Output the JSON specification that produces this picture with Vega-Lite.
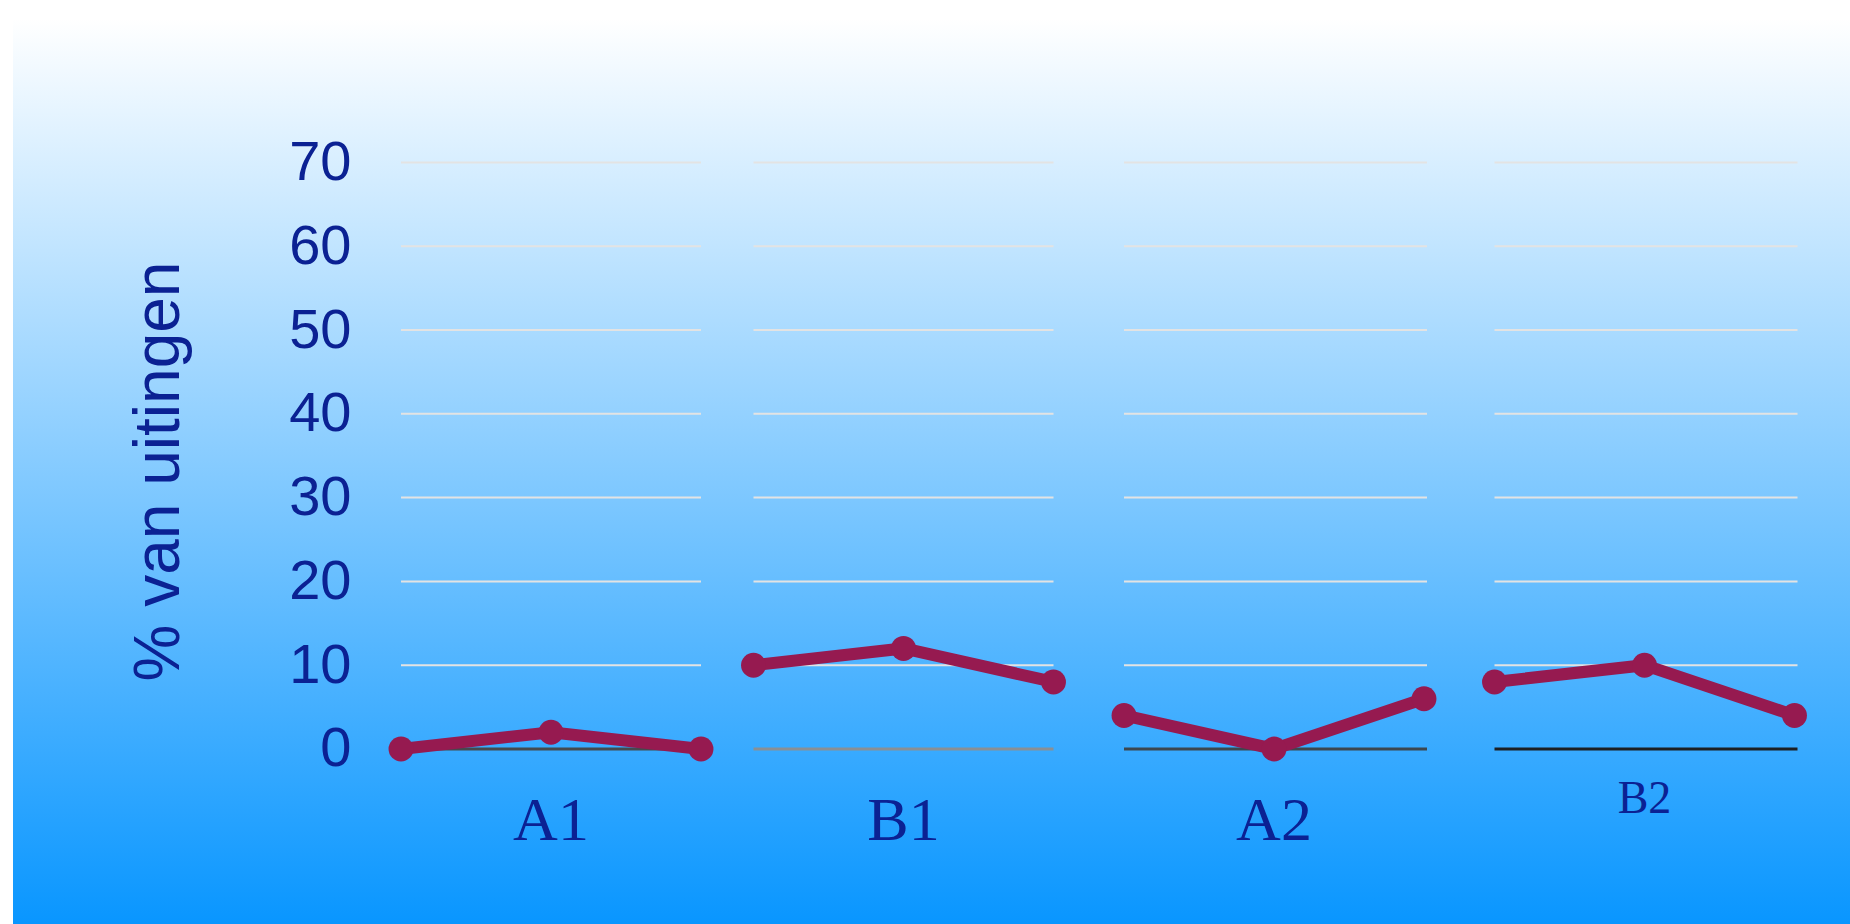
{
  "$schema": "https://vega.github.io/schema/vega-lite/v6.json",
  "width": 1837,
  "height": 924,
  "autosize": {"type": "none"},
  "padding": {"left": 13, "top": 0, "right": 0, "bottom": 0},
  "background": "white",
  "view": {
    "stroke": null,
    "fill": {
      "gradient": "linear",
      "x1": 0, "y1": 0, "x2": 0, "y2": 1,
      "stops": [
        {"offset": 0, "color": "#ffffff"},
        {"offset": 0.02, "color": "#ffffff"},
        {"offset": 1, "color": "#0996ff"}
      ]
    }
  },
  "datasets": {
    "points": [
      {"panel": "A1", "pos": 0, "value": 0},
      {"panel": "A1", "pos": 1, "value": 2},
      {"panel": "A1", "pos": 2, "value": 0},
      {"panel": "B1", "pos": 2.35, "value": 10},
      {"panel": "B1", "pos": 3.35, "value": 12},
      {"panel": "B1", "pos": 4.35, "value": 8},
      {"panel": "A2", "pos": 4.82, "value": 4},
      {"panel": "A2", "pos": 5.82, "value": 0},
      {"panel": "A2", "pos": 6.82, "value": 6},
      {"panel": "B2", "pos": 7.29, "value": 8},
      {"panel": "B2", "pos": 8.29, "value": 10},
      {"panel": "B2", "pos": 9.29, "value": 4}
    ],
    "panels": [
      {"panel": "A1", "start": 0, "end": 2, "mid": 1, "ticks": [10, 20, 30, 40, 50, 60, 70]},
      {"panel": "B1", "start": 2.35, "end": 4.35, "mid": 3.35, "ticks": [10, 20, 30, 40, 50, 60, 70]},
      {"panel": "A2", "start": 4.82, "end": 6.84, "mid": 5.82, "ticks": [10, 20, 30, 40, 50, 60, 70]},
      {"panel": "B2", "start": 7.29, "end": 9.31, "mid": 8.29, "ticks": [10, 20, 30, 40, 50, 60, 70]}
    ]
  },
  "resolve": {"scale": {"color": "independent"}},
  "layer": [
    {
      "data": {"name": "panels"},
      "transform": [{"flatten": ["ticks"]}],
      "mark": {"type": "rule", "color": "#e3e3e3", "strokeWidth": 2},
      "encoding": {
        "x": {"field": "start", "type": "quantitative", "scale": {"domain": [-2.5867, 9.66], "nice": false, "zero": false}, "axis": null},
        "x2": {"field": "end"},
        "y": {"field": "ticks", "type": "quantitative", "scale": {"domain": [-20.89, 89.39], "nice": false, "zero": false},
          "axis": {
            "orient": "left",
            "values": [0, 10, 20, 30, 40, 50, 60, 70],
            "grid": false, "domain": false, "ticks": false,
            "offset": -338, "labelPadding": 0,
            "labelFont": "Liberation Sans", "labelFontSize": 56, "labelColor": "#0b2193",
            "labelBaseline": "middle",
            "title": "% van uitingen",
            "titleFont": "Liberation Sans", "titleFontSize": 64, "titleFontWeight": "normal", "titleColor": "#0b2193",
            "titleAngle": 270, "titleAlign": "center", "titleBaseline": "alphabetic",
            "titleX": -173, "titleY": 471
          }
        }
      }
    },
    {
      "data": {"name": "panels"},
      "mark": {"type": "rule", "strokeWidth": 3},
      "encoding": {
        "x": {"field": "start", "type": "quantitative"},
        "x2": {"field": "end"},
        "y": {"datum": 0, "type": "quantitative"},
        "color": {"field": "panel", "type": "nominal", "scale": {"domain": ["A1", "B1", "A2", "B2"], "range": ["#454a4f", "#8a8f94", "#3c474f", "#1c1f22"]}, "legend": null}
      }
    },
    {
      "data": {"name": "points"},
      "mark": {"type": "line", "color": "#961a50", "strokeWidth": 12, "point": {"filled": true, "size": 620, "color": "#961a50"}},
      "encoding": {
        "x": {"field": "pos", "type": "quantitative"},
        "y": {"field": "value", "type": "quantitative"},
        "detail": {"field": "panel", "type": "nominal"}
      }
    },
    {
      "data": {"name": "panels"},
      "transform": [{"filter": "datum.panel != 'B2'"}],
      "mark": {"type": "text", "font": "Liberation Serif", "fontSize": 62, "color": "#0b2193", "baseline": "alphabetic", "align": "center"},
      "encoding": {
        "x": {"field": "mid", "type": "quantitative"},
        "y": {"datum": -10.86, "type": "quantitative"},
        "text": {"field": "panel"}
      }
    },
    {
      "data": {"name": "panels"},
      "transform": [{"filter": "datum.panel == 'B2'"}],
      "mark": {"type": "text", "font": "Liberation Serif", "fontSize": 46, "color": "#0b2193", "baseline": "alphabetic", "align": "center"},
      "encoding": {
        "x": {"field": "mid", "type": "quantitative"},
        "y": {"datum": -7.64, "type": "quantitative"},
        "text": {"field": "panel"}
      }
    }
  ]
}
